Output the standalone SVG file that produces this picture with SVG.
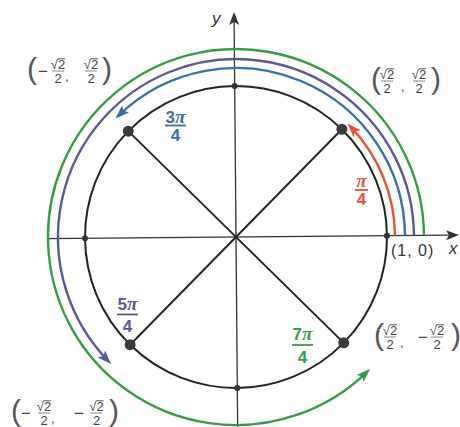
<svg xmlns="http://www.w3.org/2000/svg" width="460" height="427" viewBox="0 0 460 427">
<style>
  .ax{stroke:#333;stroke-width:1.3;fill:none}
  .circ{stroke:#222;stroke-width:2;fill:none}
  .dia{stroke:#222;stroke-width:1.9}
  .arc{fill:none;stroke-width:2.4}
  .dot{fill:#3a3a3a}
  .sdot{fill:#333}
  .par{font-family:"Liberation Sans",Arial,sans-serif;font-size:30px;fill:#555}
  .num{font-family:"Liberation Sans",Arial,sans-serif;font-size:13px;fill:#444;text-anchor:middle}
  .mn{font-family:"Liberation Sans",Arial,sans-serif;font-size:17px;fill:#444;text-anchor:middle}
  .cm{font-family:"Liberation Sans",Arial,sans-serif;font-size:13px;fill:#444}
  .fb{stroke:#777;stroke-width:0.9}
  .vin{stroke:#444;stroke-width:0.9}
  .ang{font-family:"Liberation Sans",Arial,sans-serif;font-size:17px;font-weight:bold;text-anchor:middle}
  .pi{font-family:"Liberation Serif","Times New Roman",serif;font-style:italic;font-weight:bold;font-size:19px}
  .axl{font-family:"Liberation Sans",Arial,sans-serif;font-style:italic;font-size:17px;fill:#333}
</style>
<defs>
  <marker id="mr" markerUnits="userSpaceOnUse" orient="auto" overflow="visible" markerWidth="1" markerHeight="1"><path d="M5,0 L-9,-5 L-6,0 L-9,5 Z" fill="#e2553a"/></marker>
  <marker id="mb" markerUnits="userSpaceOnUse" orient="auto" overflow="visible" markerWidth="1" markerHeight="1"><path d="M5,0 L-9,-5 L-6,0 L-9,5 Z" fill="#3b6ea5"/></marker>
  <marker id="mp" markerUnits="userSpaceOnUse" orient="auto" overflow="visible" markerWidth="1" markerHeight="1"><path d="M5,0 L-9,-5 L-6,0 L-9,5 Z" fill="#5b5893"/></marker>
  <marker id="mg" markerUnits="userSpaceOnUse" orient="auto" overflow="visible" markerWidth="1" markerHeight="1"><path d="M5,0 L-9,-5 L-6,0 L-9,5 Z" fill="#3a9a48"/></marker>
</defs>
<rect width="460" height="427" fill="#fff"/>
<g id="graph" transform="rotate(-0.5 236 237)">
  <g id="axes">
    <line class="ax" x1="47" y1="237" x2="450" y2="237"/>
    <path d="M459,237 L446,232 L449,237 L446,242 Z" fill="#333"/>
    <line class="ax" x1="236" y1="427" x2="236" y2="22"/>
    <path d="M236,12 L231,25 L236,22 L241,25 Z" fill="#333"/>
  </g>
  <g id="unit-circle">
    <circle class="circ" cx="236" cy="237" r="151"/>
  </g>
  <g id="connectors">
    <line class="dia" x1="129.2" y1="130.2" x2="342.8" y2="343.8"/>
    <line class="dia" x1="342.8" y1="130.2" x2="129.2" y2="343.8"/>
    <path id="arc-red" class="arc" stroke="#e2553a" d="M395,237 A159,159 0 0 0 351.9,128.2" marker-end="url(#mr)"/>
    <path id="arc-blue" class="arc" stroke="#3b6ea5" d="M405,237 A169,169 0 0 0 120.1,114.0" marker-end="url(#mb)"/>
    <path id="arc-purple" class="arc" stroke="#5b5893" d="M414,237 A178,178 0 1 0 106.6,359.3" marker-end="url(#mp)"/>
    <path id="arc-green" class="arc" stroke="#3a9a48" d="M424,237 A188,188 0 1 0 365.4,373.4" marker-end="url(#mg)"/>
  </g>
  <g id="points">
    <circle class="sdot" cx="387" cy="237" r="3"/>
    <circle class="sdot" cx="85" cy="237" r="3"/>
    <circle class="sdot" cx="236" cy="86" r="3"/>
    <circle class="sdot" cx="236" cy="388" r="3"/>
    <circle id="p-pi4" class="dot" cx="342.8" cy="130.2" r="5.5"/>
    <circle id="p-3pi4" class="dot" cx="129.2" cy="130.2" r="5.5"/>
    <circle id="p-5pi4" class="dot" cx="129.2" cy="343.8" r="5.5"/>
    <circle id="p-7pi4" class="dot" cx="342.8" cy="343.8" r="5.5"/>
  </g>
</g>
<g id="axis-labels">
  <text class="axl" x="212" y="24">y</text>
  <text class="axl" x="449" y="254" font-size="16">x</text>
  <text x="391" y="256" font-family="'Liberation Sans',Arial,sans-serif" font-size="16" letter-spacing="1" fill="#333">(1, 0)</text>
</g>
<g id="angle-labels">
  <g id="lbl-pi4" fill="#e2553a">
    <text class="ang" x="361.5" y="187"><tspan class="pi">π</tspan></text>
    <line x1="355" y1="190" x2="368" y2="190" stroke="#e2553a" stroke-width="1.8"/>
    <text class="ang" x="361.5" y="205">4</text>
  </g>
  <g id="lbl-3pi4" fill="#3b6ea5">
    <text class="ang" x="175.5" y="123">3<tspan class="pi">π</tspan></text>
    <line x1="165" y1="125.5" x2="186" y2="125.5" stroke="#3b6ea5" stroke-width="1.8"/>
    <text class="ang" x="175.5" y="141">4</text>
  </g>
  <g id="lbl-5pi4" fill="#5b5893">
    <text class="ang" x="127.5" y="310">5<tspan class="pi">π</tspan></text>
    <line x1="117" y1="314.5" x2="138" y2="314.5" stroke="#5b5893" stroke-width="1.8"/>
    <text class="ang" x="127.5" y="332">4</text>
  </g>
  <g id="lbl-7pi4" fill="#3a9a48">
    <text class="ang" x="302.5" y="340">7<tspan class="pi">π</tspan></text>
    <line x1="292" y1="345" x2="313" y2="345" stroke="#3a9a48" stroke-width="1.8"/>
    <text class="ang" x="302.5" y="363">4</text>
  </g>
</g>
<g id="coord-labels">
  <g id="c-3pi4">
    <text class="par" x="27" y="79">(</text>
    <text class="mn" x="43" y="76.5">−</text>
    <text class="num" x="58" y="69">√2</text>
    <line class="vin" x1="57.6" y1="58.8" x2="65.1" y2="58.8"/>
    <line class="fb" x1="52" y1="71" x2="64" y2="71"/>
    <text class="num" x="58" y="82.5">2</text>
    <text class="cm" x="65" y="81">,</text>
    <text class="num" x="91" y="69">√2</text>
    <line class="vin" x1="90.6" y1="58.8" x2="98.1" y2="58.8"/>
    <line class="fb" x1="85" y1="71" x2="97" y2="71"/>
    <text class="num" x="91" y="82.5">2</text>
    <text class="par" x="112" y="79" text-anchor="end">)</text>
  </g>
  <g id="c-pi4">
    <text class="par" x="371" y="89">(</text>
    <text class="num" x="387" y="79">√2</text>
    <line class="vin" x1="386.6" y1="68.8" x2="394.1" y2="68.8"/>
    <line class="fb" x1="381" y1="81" x2="393" y2="81"/>
    <text class="num" x="387" y="92.5">2</text>
    <text class="cm" x="401" y="91">,</text>
    <text class="num" x="419" y="79">√2</text>
    <line class="vin" x1="418.6" y1="68.8" x2="426.1" y2="68.8"/>
    <line class="fb" x1="413" y1="81" x2="425" y2="81"/>
    <text class="num" x="419" y="92.5">2</text>
    <text class="par" x="441" y="89" text-anchor="end">)</text>
  </g>
  <g id="c-7pi4">
    <text class="par" x="374" y="345">(</text>
    <text class="num" x="390" y="335">√2</text>
    <line class="vin" x1="389.6" y1="324.8" x2="397.1" y2="324.8"/>
    <line class="fb" x1="384" y1="337" x2="396" y2="337"/>
    <text class="num" x="390" y="348.5">2</text>
    <text class="cm" x="400" y="347">,</text>
    <text class="mn" x="423" y="342.5">−</text>
    <text class="num" x="437" y="335">√2</text>
    <line class="vin" x1="436.6" y1="324.8" x2="444.1" y2="324.8"/>
    <line class="fb" x1="431" y1="337" x2="443" y2="337"/>
    <text class="num" x="437" y="348.5">2</text>
    <text class="par" x="461" y="345" text-anchor="end">)</text>
  </g>
  <g id="c-5pi4">
    <text class="par" x="11" y="421">(</text>
    <text class="mn" x="26" y="418.5">−</text>
    <text class="num" x="44" y="411">√2</text>
    <line class="vin" x1="43.6" y1="400.8" x2="51.1" y2="400.8"/>
    <line class="fb" x1="38" y1="413" x2="50" y2="413"/>
    <text class="num" x="44" y="424.5">2</text>
    <text class="cm" x="51" y="423">,</text>
    <text class="mn" x="79" y="418.5">−</text>
    <text class="num" x="96.5" y="411">√2</text>
    <line class="vin" x1="96.1" y1="400.8" x2="103.6" y2="400.8"/>
    <line class="fb" x1="90.5" y1="413" x2="102.5" y2="413"/>
    <text class="num" x="96.5" y="424.5">2</text>
    <text class="par" x="119" y="421" text-anchor="end">)</text>
  </g>
</g>
</svg>
